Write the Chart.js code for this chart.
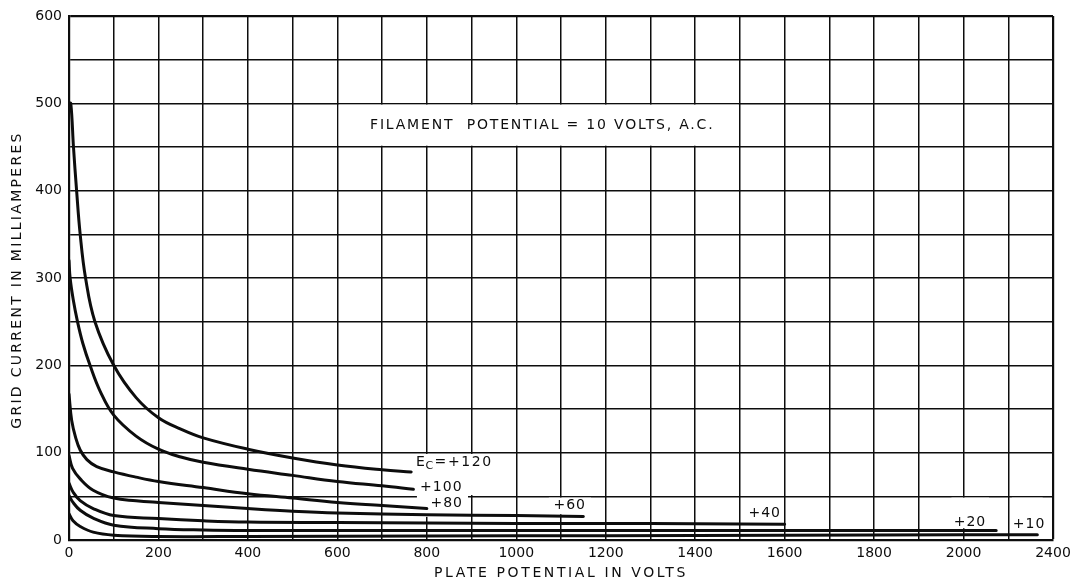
<!DOCTYPE html>
<html>
<head>
<meta charset="utf-8">
<title>Grid current vs plate potential</title>
<script src="https://cdn.jsdelivr.net/npm/chart.js"></script>
<style>
  html, body { margin: 0; padding: 0; background: #fff; }
  canvas { display: block; }
</style>
</head>
<body>
<canvas id="chart" width="1081" height="584"></canvas>
<script>
// readings off the sheet: plate potential (V) and grid current (mA), one pair of arrays per grid bias
const volts120 = [0, 4, 10, 17, 25, 37, 58, 100, 150, 200, 250, 300, 400, 500, 600, 700, 765];
const ma120    = [500, 500, 450, 400, 350, 300, 250, 200, 163, 140, 127, 117, 104, 94, 86, 80.5, 78];
const volts100 = [0, 2.5, 9.5, 19, 31, 47, 70, 100, 150, 200, 250, 300, 400, 500, 600, 700, 770];
const ma100    = [320, 300, 275, 250, 225, 200, 170, 143, 119, 104, 95, 89, 81, 74, 67, 62, 58];
const volts80  = [0, 6, 15, 25, 40, 62, 100, 150, 200, 300, 400, 500, 600, 700, 800];
const ma80     = [167, 137, 117, 103, 92, 84, 78, 72, 67, 60, 53, 48, 43, 39.5, 36];
const volts60  = [0, 8, 25, 54, 100, 150, 200, 300, 400, 500, 600, 800, 1000, 1150];
const ma60     = [97, 82, 70, 57, 48, 45, 43, 39.5, 36, 33, 31, 29, 28, 27];
const volts40  = [0, 9, 25, 54, 100, 200, 300, 400, 600, 800, 1000, 1200, 1400, 1600];
const ma40     = [65, 55, 45, 36, 28, 24.5, 22, 20.5, 20, 19.5, 19, 19, 18.5, 18];
const volts20  = [0, 9, 25, 54, 100, 200, 300, 400, 800, 1200, 1600, 2073];
const ma20     = [51, 43, 34, 25, 17, 13, 11.5, 11, 11, 11, 11, 11];
const volts10  = [0, 9, 25, 54, 100, 200, 400, 800, 1200, 1600, 2000, 2165];
const ma10     = [30, 22, 15.5, 9, 5.5, 4, 4, 4.5, 5, 5.5, 6, 6];

// the last division on the original sheet is marked 2400 although it sits where 2200 belongs
const xTickValues = [0, 200, 400, 600, 800, 1000, 1200, 1400, 1600, 1800, 2000, 2200];
const xTickLabels = ['0', '200', '400', '600', '800', '1000', '1200', '1400', '1600', '1800', '2000', '2400'];
const yTickValues = [0, 100, 200, 300, 400, 500, 600];
const yTickLabels = ['0', '100', '200', '300', '400', '500', '600'];

const ink = '#0d0d0d';
const letterFont = '"DejaVu Sans", sans-serif';

function pts(xs, ys) {
  return xs.map((x, i) => ({ x: x, y: ys[i] }));
}

const curves = [
  { label: 'Ec=+120', xs: volts120, ys: ma120 },
  { label: 'Ec=+100', xs: volts100, ys: ma100 },
  { label: 'Ec=+80', xs: volts80, ys: ma80 },
  { label: 'Ec=+60', xs: volts60, ys: ma60 },
  { label: 'Ec=+40', xs: volts40, ys: ma40 },
  { label: 'Ec=+20', xs: volts20, ys: ma20 },
  { label: 'Ec=+10', xs: volts10, ys: ma10 }
];

// white patches left in the grid behind the lettering (data units)
const patches = [
  { x0: 600, x1: 1500, y0: 450, y1: 500 },
  { x0: 775, x1: 895, y0: 25, y1: 100 },
  { x0: 890, x1: 990, y0: 50, y1: 100 },
  { x0: 1070, x1: 1170, y0: 28, y1: 50 },
  { x0: 1970, x1: 2060, y0: 12, y1: 50 },
  { x0: 2105, x1: 2180, y0: 0, y1: 50 }
];

const notes = [
  { text: '+100', x: 785, y: 60.5 },
  { text: '+80', x: 808, y: 41.8 },
  { text: '+60', x: 1083, y: 39.5 },
  { text: '+40', x: 1519, y: 31 },
  { text: '+20', x: 1978, y: 20 },
  { text: '+10', x: 2110, y: 17.8 }
];

function spaced(ctx, text, x, y, size, spacing, align) {
  ctx.font = size + 'px ' + letterFont;
  ctx.letterSpacing = spacing + 'px';
  ctx.textAlign = align || 'left';
  ctx.textBaseline = 'middle';
  ctx.fillText(text, x, y);
  return ctx.measureText(text).width;
}

const lettering = {
  id: 'lettering',
  beforeDraw(chart) {
    const ctx = chart.ctx;
    ctx.save();
    ctx.fillStyle = '#fff';
    ctx.fillRect(0, 0, chart.width, chart.height);
    ctx.restore();
  },
  beforeDatasetsDraw(chart) {
    const ctx = chart.ctx;
    const xs = chart.scales.x, ys = chart.scales.y;
    ctx.save();
    ctx.fillStyle = '#fff';
    patches.forEach(p => {
      const l = xs.getPixelForValue(p.x0) + 1.3;
      const r = xs.getPixelForValue(p.x1) - 1.3;
      const t = ys.getPixelForValue(p.y1) + 1.3;
      const b = ys.getPixelForValue(p.y0) - 1.3;
      ctx.fillRect(l, t, r - l, b - t);
    });
    ctx.restore();
  },
  afterDatasetsDraw(chart) {
    const ctx = chart.ctx;
    const xs = chart.scales.x, ys = chart.scales.y;
    const area = chart.chartArea;
    ctx.save();
    ctx.fillStyle = ink;

    spaced(ctx, 'FILAMENT  POTENTIAL = 10 VOLTS, A.C.', xs.getPixelForValue(1058), ys.getPixelForValue(475), 14, 1.8, 'center');

    // E with subscript C
    let px = xs.getPixelForValue(776), py = ys.getPixelForValue(87.6);
    px += spaced(ctx, 'E', px, py - 1, 14, 0.5);
    px += spaced(ctx, 'C', px, py + 3, 11, 0.5);
    spaced(ctx, '=+120', px + 1, py - 1, 14, 1.6);

    notes.forEach(n => {
      spaced(ctx, n.text, xs.getPixelForValue(n.x), ys.getPixelForValue(n.y), 14, 1);
    });

    // axis titles
    spaced(ctx, 'PLATE POTENTIAL IN VOLTS', (area.left + area.right) / 2, area.bottom + 33, 14, 2.6, 'center');
    ctx.translate(17, (area.top + area.bottom) / 2 + 2);
    ctx.rotate(-Math.PI / 2);
    spaced(ctx, 'GRID CURRENT IN MILLIAMPERES', 0, 0, 14, 2.3, 'center');
    ctx.restore();
  }
};

new Chart(document.getElementById('chart'), {
  type: 'line',
  data: {
    datasets: curves.map(c => ({
      label: c.label,
      data: pts(c.xs, c.ys),
      borderColor: ink,
      borderWidth: 3,
      borderCapStyle: 'round',
      borderJoinStyle: 'round',
      pointRadius: 0,
      tension: 0.4,
      fill: false
    }))
  },
  options: {
    responsive: false,
    animation: false,
    events: [],
    layout: { padding: { left: 0, right: 28, top: 16, bottom: 0 } },
    plugins: {
      legend: { display: false },
      tooltip: { enabled: false }
    },
    scales: {
      x: {
        type: 'linear',
        min: 0,
        max: 2200,
        afterFit: s => { s.height = 44; },
        grid: {
          color: ink,
          lineWidth: c => (c.tick && c.tick.value === 2200 ? 2.2 : 1.5),
          drawTicks: false
        },
        border: { color: ink, width: 2.2 },
        ticks: {
          stepSize: 100,
          autoSkip: false,
          maxRotation: 0,
          padding: 5,
          color: ink,
          font: { family: letterFont, size: 14 },
          callback: v => {
            const i = xTickValues.indexOf(v);
            return i >= 0 ? xTickLabels[i] : '';
          }
        }
      },
      y: {
        min: 0,
        max: 600,
        afterFit: s => { s.width = 69; },
        grid: {
          color: ink,
          lineWidth: c => (c.tick && c.tick.value === 600 ? 2.2 : 1.5),
          drawTicks: false
        },
        border: { color: ink, width: 2.2 },
        ticks: {
          stepSize: 50,
          autoSkip: false,
          padding: 7,
          color: ink,
          font: { family: letterFont, size: 14 },
          callback: v => {
            const i = yTickValues.indexOf(v);
            return i >= 0 ? yTickLabels[i] : '';
          }
        }
      }
    }
  },
  plugins: [lettering]
});
</script>
</body>
</html>
